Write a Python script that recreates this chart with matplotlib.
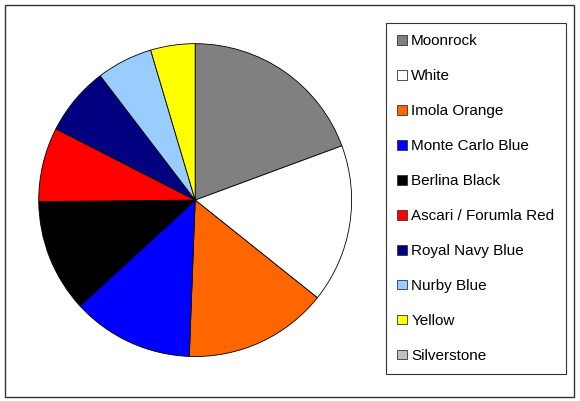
import matplotlib.pyplot as plt
from matplotlib.patches import Patch, Rectangle

plt.rcParams['font.family'] = ['Liberation Sans', 'DejaVu Sans']

labels = ['Moonrock', 'White', 'Imola Orange', 'Monte Carlo Blue', 'Berlina Black',
          'Ascari / Forumla Red', 'Royal Navy Blue', 'Nurby Blue', 'Yellow', 'Silverstone']
shares = [19.4, 16.4, 14.9, 12.6, 11.7, 7.7, 7.1, 5.8, 4.6, 0.0]
colors = ['#808080', '#FFFFFF', '#FF6600', '#0000FF', '#000000',
          '#FF0000', '#000080', '#99CCFF', '#FFFF00', '#C0C0C0']

fig = plt.figure(figsize=(5.8, 4.01), dpi=100)

# outer chart border
fig.patches.append(Rectangle((5 / 580, 4 / 401), 569 / 580, 392 / 401, transform=fig.transFigure,
                             fill=False, edgecolor='#333333', linewidth=1))

ax = fig.add_axes([0.064, 0.107, 0.545, 0.788])
vals = [v for v in shares if v > 0]
cols = [c for v, c in zip(shares, colors) if v > 0]
ax.pie(vals, colors=cols, startangle=90, counterclock=False,
       wedgeprops=dict(edgecolor='black', linewidth=0.6))
ax.set_xlim(-1.01, 1.01)
ax.set_ylim(-1.01, 1.01)
ax.set_aspect('equal')

handles = [Patch(facecolor=c, edgecolor='#333333', linewidth=0.6) for c in colors]
leg = fig.legend(handles, labels, loc='upper left', bbox_to_anchor=(386 / 580, 1 - 23 / 401),
                 fontsize=11, frameon=True, fancybox=False, handlelength=0.6, handleheight=0.6,
                 handletextpad=0.3, labelspacing=1.37, borderpad=0.75, borderaxespad=0)
leg.get_frame().set_edgecolor('black')
leg.get_frame().set_linewidth(0.8)

fig.savefig('out.png', dpi=100)
